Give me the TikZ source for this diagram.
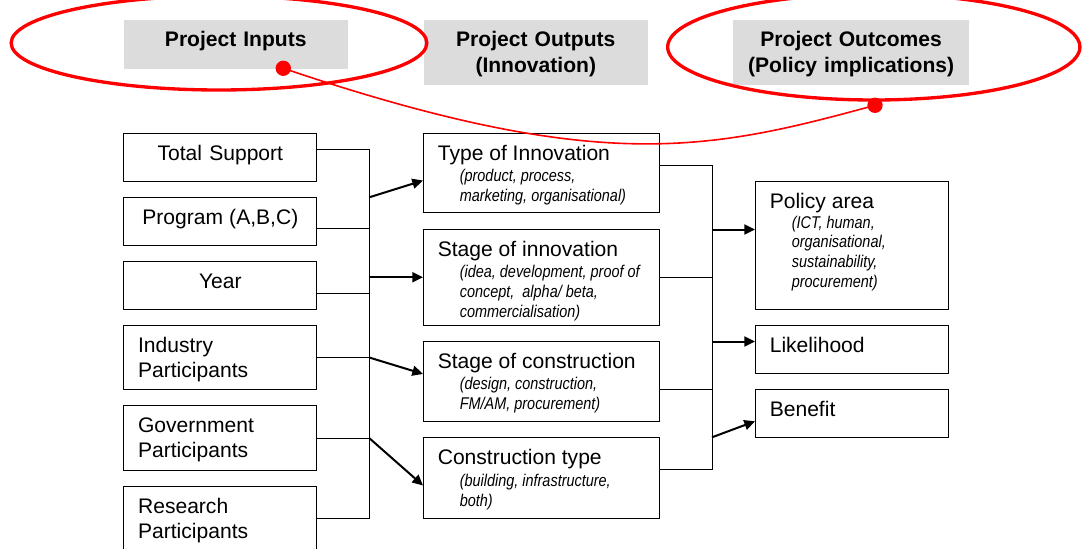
\documentclass[tikz,border=0pt]{standalone}
\usepackage{fontspec}
\setmainfont{Liberation Sans}
\newfontfamily\narrowfont[FakeStretch=0.85]{Liberation Sans}
\usetikzlibrary{arrows.meta, positioning, calc}
\definecolor{headgray}{RGB}{220,220,220}
\definecolor{ringred}{RGB}{255,0,0}
\newcommand{\detailfont}{\narrowfont\itshape\fontsize{12.75}{14.85}\selectfont\spaceskip=0pt\xspaceskip=0pt\relax}
\newcommand{\detl}[1]{\hspace*{16.5pt}{\detailfont #1}}

\begin{document}
\begin{tikzpicture}[x=0.75pt, y=-0.75pt,
  head/.style={fill=headgray, anchor=north west, inner sep=0pt, align=center, text width=#1, text height=19.9pt, font=\bfseries\fontsize{15.8}{19.5}\selectfont},
  box/.style={draw, line width=0.8pt, anchor=north west, inner xsep=10.7pt, inner ysep=0pt, text width=#1, align=left, text height=20.25pt, font=\fontsize{15.8}{14.85}\selectfont, execute at begin node={\spaceskip=0pt\xspaceskip=0pt\relax}},
  inbox/.style={box=123.35pt, font=\fontsize{15.8}{18.75}\selectfont},
  link/.style={line width=0.75pt},
  feed/.style={line width=1.5pt, -{Triangle[length=8pt, width=7.5pt]}},
  ring/.style={draw=ringred, line width=2.5pt},
  dot/.style={circle, fill=ringred, inner sep=0pt, minimum size=11.5pt}]
  \useasboundingbox (0,0) rectangle (1083,549);

  % column headers
  \node[head=168.3pt, text depth=16.6pt] (hin) at (123.3,20) {Project Inputs};
  \node[head=168.3pt, text depth=28.3pt] (hout) at (423.3,20) {Project Outputs\\(Innovation)};
  \node[head=176.8pt, text depth=28.3pt] (hres) at (733,20) {Project Outcomes\\(Policy implications)};

  % inputs
  \node[inbox, align=center, text depth=15.75pt] (tsup) at (123.3,132.7) {Total Support};
  \node[inbox, align=center, text depth=15.75pt] (prog) at (123.3,196.7) {Program (A,B,C)};
  \node[inbox, align=center, text depth=15.75pt] (year) at (123.3,260.7) {Year};
  \node[inbox, text depth=28.2pt] (indp) at (123.3,324.7) {Industry\\Participants};
  \node[inbox, text depth=28.2pt] (govp) at (123.3,405.3) {Government\\Participants};
  \node[inbox, text depth=28.2pt] (resp) at (123.3,485.7) {Research\\Participants};

  % outputs
  \node[box=155.4pt, text depth=39.45pt] (itype) at (423,132.7) {Type of Innovation\\[1.3pt]\detl{(product, process,}\\\detl{marketing, organisational)}};
  \node[box=155.4pt, text depth=51.75pt] (istage) at (423,228.7) {Stage of innovation\\[1.3pt]\detl{(idea, development, proof of}\\\detl{concept,\ \ alpha/ beta,}\\\detl{commercialisation)}};
  \node[box=155.4pt, text depth=40pt] (cstage) at (423,340.7) {Stage of construction\\[1.3pt]\detl{(design, construction,}\\\detl{FM/AM, procurement)}};
  \node[box=155.4pt, text depth=40pt] (ctype) at (423,437.3) {Construction type\\[1.3pt]\detl{(building, infrastructure,}\\\detl{both)}};

  % outcomes
  \node[box=123.35pt, text depth=76pt] (parea) at (755,180.7) {Policy area\\\detl{(ICT, human,}\\\detl{organisational,}\\\detl{sustainability,}\\\detl{procurement)}};
  \node[box=123.35pt, text depth=15.75pt] (likely) at (755,325) {Likelihood};
  \node[box=123.35pt, text depth=15.75pt] (benef) at (755,389) {Benefit};

  % buses
  \coordinate (lbus) at (369.3,0);
  \coordinate (rbus) at (712,0);
  \coordinate (lfeed) at (369.3,197.3);
  \coordinate (rfeed) at (712,437.3);

  \foreach \n/\s in {tsup/6pt, prog/-5.7pt, year/-6.1pt, indp/0pt, govp/0pt, resp/0pt}
    \draw[link] ([yshift=\s]\n.east) -- ([yshift=\s]\n.east -| lbus);
  \draw[link] ([yshift=6pt]tsup.east -| lbus) -- (resp.east -| lbus);

  \foreach \n/\s in {itype/5.85pt, istage/0pt, cstage/-6.1pt, ctype/6.15pt}
    \draw[link] ([yshift=\s]\n.east) -- ([yshift=\s]\n.east -| rbus);
  \draw[link] ([yshift=5.85pt]itype.east -| rbus) -- ([yshift=6.15pt]ctype.east -| rbus);

  % arrows
  \draw[feed] (lfeed) -- ([yshift=-5.6pt]itype.west);
  \draw[feed] (istage.west -| lbus) -- (istage.west);
  \draw[feed] (indp.east -| lbus) -- ([yshift=5.6pt]cstage.west);
  \draw[feed] (govp.east -| lbus) -- ([yshift=-5.6pt]ctype.west);

  \draw[feed] ([yshift=11.9pt]parea.west -| rbus) -- ([yshift=11.9pt]parea.west);
  \draw[feed] ([yshift=6pt]likely.west -| rbus) -- ([yshift=6pt]likely.west);
  \draw[feed] (rfeed) -- ([yshift=-5.8pt]benef.west);

  % red rings
  \draw[ring] (219,43) ellipse [x radius=155.9pt, y radius=35.25pt];
  \draw[ring] (873.8,47) ellipse [x radius=154.6pt, y radius=39.75pt];
  \node[dot] (ldot) at (283.3,68.3) {};
  \node[dot] (rdot) at (875,105.3) {};
  \draw[ringred, line width=1.2pt] (ldot.center) .. controls +(317,107) and +(-165,45) .. (rdot.center);

\end{tikzpicture}
\end{document}
